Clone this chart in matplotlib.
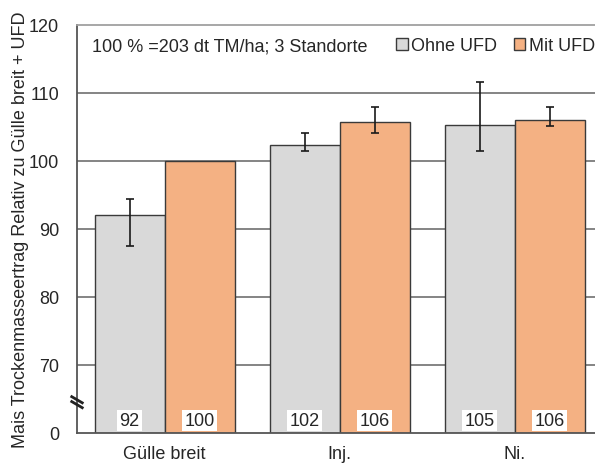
import matplotlib
matplotlib.use("Agg")
import matplotlib.pyplot as plt
from matplotlib.lines import Line2D
import numpy as np

plt.rcParams['font.family'] = ['Liberation Sans', 'DejaVu Sans']

categories = ["Gülle breit", "Inj.", "Ni."]
series_names = ["Ohne UFD", "Mit UFD"]
ohne_values = [92.1, 102.4, 105.3]
mit_values = [100.0, 105.7, 106.1]
ohne_err_low = [4.6, 0.9, 3.9]
ohne_err_high = [2.3, 1.7, 6.3]
mit_err_low = [0.0, 1.6, 1.0]
mit_err_high = [0.0, 2.3, 1.8]
ytick_values = [60, 70, 80, 90, 100, 110, 120]
ytick_labels = ["0", "70", "80", "90", "100", "110", "120"]
note_text = "100 % =203 dt TM/ha; 3 Standorte"
ylabel_text = "Mais Trockenmasseertrag Relativ zu Gülle breit + UFD"

gray = "#D9D9D9"
orange = "#F4B183"
edge = "#3a3a3a"
txt = "#262626"
FS = 13

W, H = 595, 464
fig = plt.figure(figsize=(W / 100, H / 100), dpi=100)
ax = fig.add_axes([77 / W, (H - 434) / H, 525 / W, 408 / H])

x = np.arange(len(categories))
bw = 0.4
base = ytick_values[0]

ohne_h = [v - base for v in ohne_values]
mit_h = [v - base for v in mit_values]

ax.bar(x - bw / 2, ohne_h, bw, bottom=base, color=gray, edgecolor=edge, linewidth=1.0, zorder=2)
ax.bar(x + bw / 2, mit_h, bw, bottom=base, color=orange, edgecolor=edge, linewidth=1.0, zorder=2)

ax.errorbar(x - bw / 2, ohne_values, yerr=[ohne_err_low, ohne_err_high], fmt='none',
            ecolor='#1a1a1a', elinewidth=1.2, capsize=3, capthick=1.2, zorder=3)
sel = [i for i in range(len(x)) if mit_err_low[i] > 0 or mit_err_high[i] > 0]
ax.errorbar(x[sel] + bw / 2, [mit_values[i] for i in sel],
            yerr=[[mit_err_low[i] for i in sel], [mit_err_high[i] for i in sel]], fmt='none',
            ecolor='#1a1a1a', elinewidth=1.2, capsize=3, capthick=1.2, zorder=3)

# value boxes
for xs, vals in ((x - bw / 2, ohne_values), (x + bw / 2, mit_values)):
    for xi, v in zip(xs, vals):
        ax.annotate(f"{round(v)}", xy=(xi, base), xytext=(0, 3.0), textcoords='offset points',
                    ha='center', va='bottom', fontsize=FS, color=txt, zorder=4,
                    bbox=dict(fc='white', ec='none', pad=1.6))

ax.set_xlim(-0.5, len(categories) - 0.5)
ax.set_ylim(ytick_values[0], ytick_values[-1])
ax.set_yticks(ytick_values, labels=ytick_labels)
ax.set_xticks(x, labels=categories)
ax.tick_params(axis='both', length=0, labelsize=FS, labelcolor=txt)
ax.tick_params(axis='x', pad=9)
ax.tick_params(axis='y', pad=13)

for yv in ytick_values[1:-1]:
    ax.axhline(yv, color='#6f6f6f', linewidth=1.2, zorder=1)

for s in ['left', 'bottom']:
    ax.spines[s].set_color('#555555')
    ax.spines[s].set_linewidth(1.3)
ax.spines['top'].set_color('#a0a0a0')
ax.spines['top'].set_linewidth(1.3)
ax.spines['right'].set_visible(False)

ax.set_ylabel(ylabel_text, fontsize=FS, color=txt, labelpad=0)

# axis break marker
for dy in (-0.008, 0.004):
    ax.add_line(Line2D([-0.010, 0.010], [0.085 + dy, 0.070 + dy], transform=ax.transAxes,
                       color='#222222', linewidth=2.0, clip_on=False, zorder=5))

fig.text(92 / W, 1 - 47 / H, note_text, fontsize=FS, color=txt, ha='left', va='center')

handles = [plt.Rectangle((0, 0), 1, 1, fc=gray, ec=edge, lw=1.0),
           plt.Rectangle((0, 0), 1, 1, fc=orange, ec=edge, lw=1.0)]
fig.legend(handles, series_names, loc='center left', bbox_to_anchor=(396 / W, 1 - 47 / H),
           ncol=2, frameon=False, fontsize=FS, handlelength=0.65, handleheight=0.65,
           handletextpad=0.2, columnspacing=0.9, borderaxespad=0, borderpad=0,
           labelcolor=txt)

fig.savefig("out.png", dpi=100)
